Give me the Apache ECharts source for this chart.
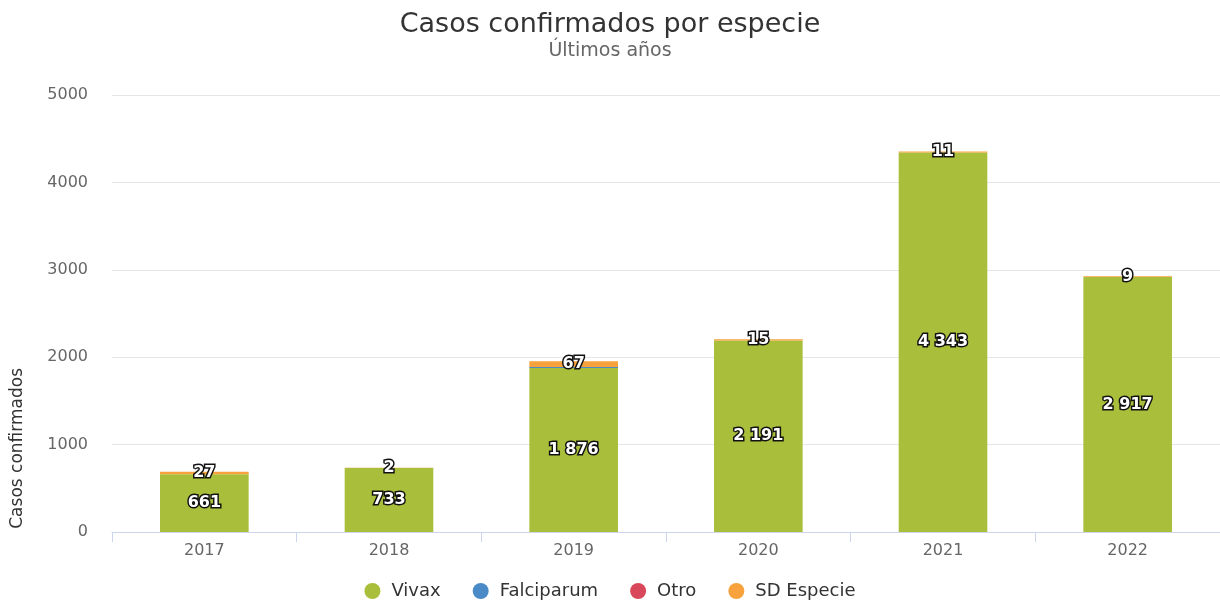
<!DOCTYPE html>
<html>
<head>
<meta charset="utf-8">
<script src="https://cdn.jsdelivr.net/npm/echarts@6/dist/echarts.min.js"></script>
<style>
  html, body { margin: 0; padding: 0; background: #fff; }
  #chart { width: 1220px; height: 600px; }
</style>
</head>
<body>
<div id="chart"></div>
<script>
var years = ['2017', '2018', '2019', '2020', '2021', '2022'];
var vivax = [661, 733, 1876, 2191, 4343, 2917];
var falciparum = [0, 0, 12, 0, 0, 0];
var otro = [0, 0, 0, 0, 0, 0];
var sdEspecie = [27, 2, 67, 15, 11, 9];

var font = 'DejaVu Sans';

function fmt(p) {
  if (!p.value) return '';
  return String(p.value).replace(/\B(?=(\d{3})+(?!\d))/g, ' ');
}

var label = {
  show: true,
  position: 'inside',
  formatter: fmt,
  color: '#fff',
  fontFamily: font,
  fontSize: 16,
  fontWeight: 'bold',
  textBorderColor: '#111',
  textBorderWidth: 3
};

function bar(name, data, color, showLabel) {
  return {
    name: name,
    type: 'bar',
    stack: 'total',
    data: data,
    barWidth: '48%',
    itemStyle: { color: color },
    label: showLabel ? label : { show: false },
    emphasis: { disabled: true }
  };
}

var chart = echarts.init(document.getElementById('chart'));
chart.setOption({
  animation: false,
  title: {
    text: 'Casos confirmados por especie',
    subtext: 'Últimos años',
    left: 'center',
    top: 6,
    itemGap: 4,
    textStyle: { fontFamily: font, fontSize: 27, fontWeight: 'normal', color: '#333' },
    subtextStyle: { fontFamily: font, fontSize: 19, color: '#666' }
  },
  legend: {
    top: 581,
    left: 'center',
    padding: 0,
    icon: 'circle',
    itemWidth: 16,
    itemHeight: 16,
    itemGap: 32,
    textStyle: { fontFamily: font, fontSize: 18, color: '#333', lineHeight: 20, padding: [0, 0, 0, 6] },
    data: ['Vivax', 'Falciparum', 'Otro', 'SD Especie']
  },
  graphic: [{
    type: 'text',
    left: 9,
    top: 368,
    rotation: Math.PI / 2,
    style: { text: 'Casos confirmados', font: '17px "' + font + '"', fill: '#333' }
  }],
  grid: { left: 112, right: 0, top: 95, bottom: 68 },
  xAxis: {
    type: 'category',
    data: years,
    axisLine: { lineStyle: { color: '#ccd6eb' } },
    axisTick: { show: true, length: 10, lineStyle: { color: '#ccd6eb' } },
    axisLabel: { fontFamily: font, fontSize: 16, color: '#666', margin: 11 }
  },
  yAxis: {
    type: 'value',
    min: 0,
    max: 5000,
    interval: 1000,
    axisLine: { show: false },
    axisTick: { show: false },
    splitLine: { lineStyle: { color: '#e6e6e6' } },
    axisLabel: {
      fontFamily: font, fontSize: 16, color: '#666', margin: 24,
      formatter: function (v) { return String(v); }
    }
  },
  series: [
    bar('Vivax', vivax, '#a9bf3b', true),
    bar('Falciparum', falciparum, '#4a8bc7', false),
    bar('Otro', otro, '#d9485a', false),
    bar('SD Especie', sdEspecie, '#f7a23c', true)
  ]
});
</script>
</body>
</html>
